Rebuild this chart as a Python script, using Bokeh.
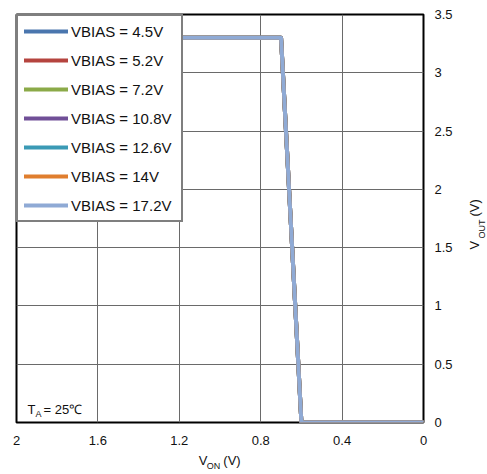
import math
from bokeh.plotting import figure
from bokeh.models import Range1d, FixedTicker, Label, Legend, LegendItem, LinearAxis
from bokeh.embed import file_html
from bokeh.resources import INLINE

# ---- data ----
series_names = ["VBIAS = 4.5V", "VBIAS = 5.2V", "VBIAS = 7.2V", "VBIAS = 10.8V",
                "VBIAS = 12.6V", "VBIAS = 14V", "VBIAS = 17.2V"]
series_colors = ["#4A76AE", "#B5443F", "#8BAA48", "#704F97", "#3B9AB5", "#E07E2E", "#8FAAD5"]
von = [2.0, 0.70, 0.60, 0.0]
vout_4_5 = [3.3, 3.3, 0.0, 0.0]
vout_5_2 = [3.3, 3.3, 0.0, 0.0]
vout_7_2 = [3.3, 3.3, 0.0, 0.0]
vout_10_8 = [3.3, 3.3, 0.0, 0.0]
vout_12_6 = [3.3, 3.3, 0.0, 0.0]
vout_14 = [3.3, 3.3, 0.0, 0.0]
vout_17_2 = [3.3, 3.3, 0.0, 0.0]
series_vout = [vout_4_5, vout_5_2, vout_7_2, vout_10_8, vout_12_6, vout_14, vout_17_2]

x_ticks = [2.0, 1.6, 1.2, 0.8, 0.4, 0.0]
x_tick_labels = ["2", "1.6", "1.2", "0.8", "0.4", "0"]
y_ticks = [0.0, 0.5, 1.0, 1.5, 2.0, 2.5, 3.0, 3.5]
y_tick_labels = ["0", "0.5", "1", "1.5", "2", "2.5", "3", "3.5"]

FONT = "Liberation Sans"
TXT = "#111111"
FW, FH = 407, 408
ML, MT, MR, MB = 16, 14, 62, 50

p = figure(width=ML + FW + MR, height=MT + FH + MB,
           frame_width=FW, frame_height=FH,
           min_border_left=ML, min_border_top=MT, min_border_right=MR, min_border_bottom=MB,
           x_range=Range1d(2, 0), y_range=Range1d(0, 3.5),
           y_axis_location="right",
           output_backend="svg", toolbar_location=None)

p.background_fill_color = "white"
p.border_fill_color = "white"
p.outline_line_color = "black"
p.outline_line_width = 2

p.xaxis.ticker = FixedTicker(ticks=x_ticks)
p.yaxis.ticker = FixedTicker(ticks=y_ticks)
p.xaxis.major_label_overrides = {t: l for t, l in zip(x_ticks, x_tick_labels)}
p.yaxis.major_label_overrides = {t: l for t, l in zip(y_ticks, y_tick_labels)}


def style_axis(ax, size, standoff):
    ax.axis_line_color = None
    ax.major_tick_line_color = None
    ax.minor_tick_line_color = None
    ax.major_tick_out = 0
    ax.major_tick_in = 0
    ax.minor_tick_out = 0
    ax.minor_tick_in = 0
    ax.major_label_text_font = FONT
    ax.major_label_text_font_size = size
    ax.major_label_text_color = TXT
    ax.major_label_standoff = standoff


style_axis(p.xaxis[0], "13px", 13)
style_axis(p.yaxis[0], "13px", 11)

p.xgrid.ticker = FixedTicker(ticks=x_ticks)
p.ygrid.ticker = FixedTicker(ticks=y_ticks)
p.grid.grid_line_color = "#6a6a6a"
p.grid.grid_line_width = 1

items = []
for name, color, vout in zip(series_names, series_colors, series_vout):
    r = p.line(von, vout, line_color=color, line_width=4, line_cap="round", line_join="round")
    items.append(LegendItem(label=name, renderers=[r]))

legend = Legend(items=items, location="top_left", margin=0, padding=6,
                spacing=11, glyph_width=44, glyph_height=18, label_height=18,
                label_standoff=3, label_width=104,
                label_text_font=FONT, label_text_font_size="15px",
                label_text_color=TXT,
                border_line_color="black", border_line_width=2,
                background_fill_color="white", background_fill_alpha=1.0)
p.add_layout(legend, "center")


def dx(px):
    return 2 - (px - 16) * 2.0 / FW


def dy(py):
    return (422 - py) * 3.5 / FH


# T_A = 25C (inside the plot area)
def lab(text, px, py, size):
    p.add_layout(Label(x=dx(px), y=dy(py), text=text,
                       text_font=FONT, text_font_size=size, text_color=TXT,
                       text_align="left", text_baseline="middle"))


lab("T", 27, 409, "13px")
lab("A", 35, 413, "9px")
lab("= 25\u2103", 43, 409, "13px")


# axis titles with subscripts, drawn as tick labels of extra axes outside the frame
def text_axis(side, positions, texts, size, standoff, rotate=False):
    ax = LinearAxis(ticker=FixedTicker(ticks=positions),
                    major_label_overrides={t: s for t, s in zip(positions, texts)})
    style_axis(ax, size, standoff)
    if rotate:
        ax.major_label_orientation = math.pi / 2
    p.add_layout(ax, side)
    return ax


# x title: V_ON (V)
text_axis("below", [dx(202.5), dx(231.5)], ["V", "(V)"], "13px", 5)
text_axis("below", [dx(213)], ["ON"], "9px", -10)

# y title: V_OUT (V)  (rotated labels start at their tick)
text_axis("right", [dy(249), dy(216)], ["V", "(V)"], "13px", 19, rotate=True)
text_axis("right", [dy(238)], ["OUT"], "9px", -11, rotate=True)

open("out.html", "w").write(file_html(p, INLINE))
